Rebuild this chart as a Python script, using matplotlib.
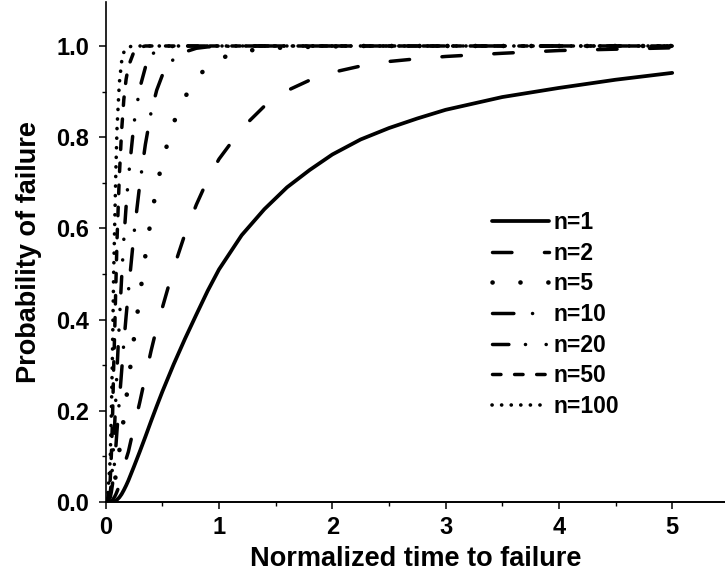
import matplotlib
matplotlib.use('Agg')
import matplotlib.pyplot as plt
from matplotlib.ticker import MultipleLocator

# values
t = [0, 0.02, 0.04, 0.05, 0.06, 0.07, 0.08, 0.09, 0.10, 0.12,
     0.14, 0.16, 0.18, 0.20, 0.25, 0.30, 0.35, 0.40, 0.45, 0.50,
     0.6, 0.7, 0.8, 0.9, 1.0, 1.2, 1.4, 1.6, 1.8, 2.0,
     2.25, 2.5, 2.75, 3.0, 3.5, 4.0, 4.5, 5.0]

p_n1 = [0, 0, 0, 0, 0.001, 0.001, 0.002, 0.003, 0.005, 0.010,
        0.017, 0.026, 0.036, 0.047, 0.078, 0.110, 0.143, 0.177, 0.210, 0.242,
        0.302, 0.358, 0.411, 0.463, 0.510, 0.585, 0.642, 0.690, 0.728, 0.762,
        0.795, 0.820, 0.841, 0.860, 0.888, 0.908, 0.926, 0.941]
p_n2 = [0, 0, 0, 0.002, 0.004, 0.008, 0.012, 0.017, 0.023, 0.036,
        0.055, 0.075, 0.094, 0.110, 0.165, 0.218, 0.275, 0.331, 0.382, 0.426,
        0.513, 0.588, 0.652, 0.707, 0.752, 0.819, 0.868, 0.902, 0.925, 0.942,
        0.956, 0.966, 0.972, 0.977, 0.984, 0.990, 0.993, 0.996]
p_n5 = [0, 0.001, 0.005, 0.011, 0.020, 0.032, 0.045, 0.060, 0.078, 0.112,
        0.146, 0.185, 0.224, 0.262, 0.360, 0.450, 0.540, 0.622, 0.690, 0.748,
        0.832, 0.888, 0.929, 0.955, 0.972, 0.988, 0.994, 0.997, 0.998, 0.999,
        1.0, 1.0, 1.0, 1.0, 1.0, 1.0, 1.0, 1.0]
p_n10 = [0, 0.002, 0.010, 0.022, 0.039, 0.067, 0.091, 0.123, 0.158, 0.221,
         0.285, 0.349, 0.407, 0.461, 0.589, 0.695, 0.784, 0.854, 0.903, 0.936,
         0.972, 0.987, 0.995, 0.998, 0.999, 1.0, 1.0, 1.0, 1.0, 1.0,
         1.0, 1.0, 1.0, 1.0, 1.0, 1.0, 1.0, 1.0]
p_n20 = [0, 0.004, 0.020, 0.044, 0.077, 0.129, 0.174, 0.231, 0.291, 0.393,
         0.489, 0.576, 0.648, 0.710, 0.831, 0.907, 0.953, 0.979, 0.991, 0.996,
         0.999, 1.0, 1.0, 1.0, 1.0, 1.0, 1.0, 1.0, 1.0, 1.0,
         1.0, 1.0, 1.0, 1.0, 1.0, 1.0, 1.0, 1.0]
p_n50 = [0, 0.010, 0.049, 0.104, 0.181, 0.292, 0.380, 0.480, 0.576, 0.713,
         0.813, 0.883, 0.927, 0.955, 0.988, 0.997, 1.0, 1.0, 1.0, 1.0,
         1.0, 1.0, 1.0, 1.0, 1.0, 1.0, 1.0, 1.0, 1.0, 1.0,
         1.0, 1.0, 1.0, 1.0, 1.0, 1.0, 1.0, 1.0]
p_n100 = [0, 0.020, 0.095, 0.197, 0.330, 0.499, 0.615, 0.730, 0.820, 0.918,
          0.965, 0.986, 0.995, 0.998, 1.0, 1.0, 1.0, 1.0, 1.0, 1.0,
          1.0, 1.0, 1.0, 1.0, 1.0, 1.0, 1.0, 1.0, 1.0, 1.0,
          1.0, 1.0, 1.0, 1.0, 1.0, 1.0, 1.0, 1.0]

labels = ['n=1', 'n=2', 'n=5', 'n=10', 'n=20', 'n=50', 'n=100']
series = [p_n1, p_n2, p_n5, p_n10, p_n20, p_n50, p_n100]

plt.rcParams['font.family'] = ['Liberation Sans', 'DejaVu Sans']
plt.rcParams['font.weight'] = 'bold'
plt.rcParams['lines.scale_dashes'] = False

# (linewidth, dash pattern in points); None = solid
styles = [
    (2.7, None),
    (2.5, (0, (14.0, 23.4))),
    (3.3, (0, (0.1, 20))),
    (2.5, (0, (15.4, 13.4, 0.1, 13.4))),
    (2.5, (0, (11.8, 11.9, 0.1, 14.8, 0.1, 11.9))),
    (2.5, (0, (6.1, 9.8))),
    (2.6, (0, (0.1, 6.8))),
]

fig = plt.figure(figsize=(7.25, 5.82), dpi=100)
ax = fig.add_axes([0.1458, 0.1375, 0.8542, 0.8591])

for vals, lab, (lw, ls) in zip(series, labels, styles):
    if ls is None:
        ax.plot(t, vals, color='k', linewidth=lw, label=lab,
                solid_capstyle='round')
    else:
        ax.plot(t, vals, color='k', linewidth=lw, linestyle=ls, label=lab,
                dash_capstyle='round')

ax.set_xlim(0, 5.466)
ax.set_ylim(0, 1.0965)
ax.xaxis.set_major_locator(MultipleLocator(1))
ax.xaxis.set_minor_locator(MultipleLocator(0.5))
ax.yaxis.set_major_locator(MultipleLocator(0.2))
ax.yaxis.set_minor_locator(MultipleLocator(0.1))
ax.yaxis.set_major_formatter(plt.FormatStrFormatter('%.1f'))

ax.spines['top'].set_visible(False)
ax.spines['right'].set_visible(False)
ax.spines['left'].set_linewidth(1.2)
ax.spines['bottom'].set_linewidth(1.4)
ax.tick_params(which='major', direction='out', length=5, width=1.1,
               labelsize=17)
ax.tick_params(axis='y', which='major', pad=7)
ax.tick_params(axis='x', which='major', pad=5)
ax.tick_params(which='minor', direction='out', length=3, width=1.0)
for lbl in ax.get_xticklabels() + ax.get_yticklabels():
    lbl.set_fontweight('bold')

ax.set_xlabel('Normalized time to failure', fontsize=19.5, fontweight='bold',
              labelpad=5)
ax.set_ylabel('Probability of failure', fontsize=19.5, fontweight='bold',
              labelpad=10)

leg = ax.legend(loc='upper left', bbox_to_anchor=(0.6786, 0.6375),
                bbox_transform=fig.transFigure, frameon=False,
                fontsize=16.5, handlelength=2.49, handletextpad=0.19,
                labelspacing=0.336, borderpad=0, borderaxespad=0)
for txt in leg.get_texts():
    txt.set_fontweight('bold')

plt.savefig('out.png', dpi=100)
